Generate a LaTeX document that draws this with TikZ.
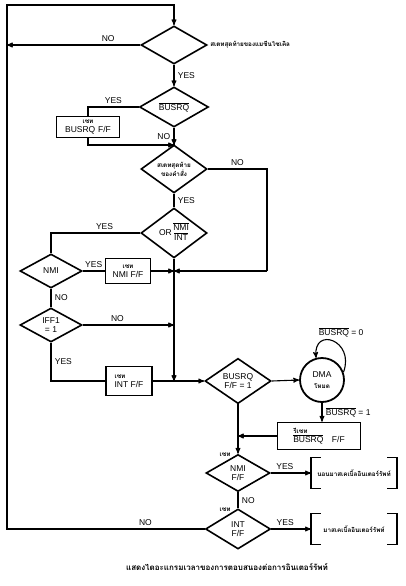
\documentclass[tikz,border=0pt]{standalone}
\usepackage{fontspec}
\setmainfont{Liberation Sans}
\newfontfamily\thaifont[Script=Thai]{Loma}
\newcommand{\thsm}{\thaifont\bfseries\fontsize{6.3}{7}\selectfont}
\newcommand{\ovl}[1]{$\overline{\mbox{#1}}$}
\usetikzlibrary{arrows,shapes.geometric}

\begin{document}
\begin{tikzpicture}[->, >=stealth', line width=1.1pt, x=1pt, y=-1pt, font=\fontsize{8.5}{9}\selectfont]
	\tikzstyle{decision}=[diamond, draw=black, line width=1.6pt, inner sep=0pt, align=center, minimum width=66pt, minimum height=38pt]
	\tikzstyle{task}=[rectangle, draw=black, line width=1.6pt, inner sep=1pt, align=center]
	\tikzstyle{bracketbox}=[rectangle, minimum width=85pt, minimum height=30pt, inner sep=0pt]
	\useasboundingbox (0,0) rectangle (406,586);
	\node[decision]   (cycle)    at (174,45)  {};
	\node[right, inner sep=2pt] (cyclenote) at (cycle.east) {\thsm สเตทสุดท้ายของแมชีนไซเคิล};
	\node[decision, minimum width=69pt, minimum height=40pt] (busrq) at (174,107) {\ovl{BUSRQ}};
	\node[task, minimum width=63pt, minimum height=21pt] (setbusrq) at (88,127) {{\thsm เซท}\\BUSRQ\,\,F/F};
	\node[decision]   (instr)    at (174,169) {\thsm สเตทสุดท้าย\\\thsm ของคำสั่ง};
	\node[decision]   (intr)     at (174,233) {OR\,\begin{tabular}{@{}c@{}}\ovl{NMI}\\[-1pt]\ovl{INT}\end{tabular}};
	\node[decision, minimum width=62pt, minimum height=34pt] (nmi) at (51,271) {NMI};
	\node[task, minimum width=45pt, minimum height=25pt] (setnmi) at (128,271) {{\thsm เซท}\\NMI F/F};
	\node[decision, minimum width=62pt, minimum height=34pt] (iff) at (51,325) {IFF1\\= 1};
	\node[task, minimum width=46pt, minimum height=29pt, align=left] (setint) at (129,381) {{\thsm เซท}\\INT F/F};
	\node[decision, minimum height=37pt] (busrqff) at (238,381) {BUSRQ\\F/F = 1};
	\node[circle, draw=black, line width=1.8pt, minimum size=44pt, inner sep=0pt, align=center] (dma) at (322,380) {DMA\\[2pt]{\thsm โหมด}};
	\node[task, minimum width=83pt, minimum height=27pt, align=left] (reset) at (319,436) {{\thsm รีเซท}\\\ovl{BUSRQ}\quad F/F};
	\node[decision, minimum width=64pt, minimum height=37pt] (nmiff) at (238,473) {NMI\\F/F};
	\node[decision, minimum width=65pt, minimum height=40pt] (intff) at (238,529) {INT\\F/F};
	\node[anchor=east, inner sep=1pt] (nmifftag) at ([xshift=-6pt,yshift=-1pt]nmiff.north) {\thsm เซท};
	\node[anchor=east, inner sep=1pt] (intfftag) at ([xshift=-6pt,yshift=-1pt]intff.north) {\thsm เซท};
	\node[bracketbox] (mnmi) at (354,473) {\thsm นอนมาสเคเบิ้ลอินเตอร์รัพท์};
	\node[bracketbox] (mint) at (354,529) {\thsm มาสเคเบิ้ลอินเตอร์รัพท์};
	\node[font=\thaifont\bfseries\fontsize{8}{9}\selectfont] (caption) at (227,567) {แสดงไดอะแกรมเวลาของการตอบสนองต่อการอินเตอร์รัพท์};
	\coordinate (topleft) at (7,5);
	\coordinate (join1) at (174,145);
	\coordinate (join2) at (174,271);
	\coordinate (join3) at (174,381);
	\coordinate (noturn) at (267,271);
	% brackets
	\foreach \b in {mnmi,mint}{
		\draw[-, line width=1.6pt] ([xshift=10pt]\b.north west) -- (\b.north west) -- (\b.south west) -- ([xshift=10pt]\b.south west);
		\draw[-, line width=1.6pt] ([xshift=-10pt]\b.north east) -- (\b.north east) -- (\b.south east) -- ([xshift=-10pt]\b.south east);
	}
	\draw (intff.west) -- node[above, pos=0.3]{NO} (intff.west -| topleft) -- (topleft) -| (cycle.north);
	\draw (cycle.west) -- node[above, pos=0.24]{NO} (cycle.west -| topleft);
	\draw (cycle.south) -- node[right]{YES} (busrq.north);
	\draw[-] (busrq.west) -| node[above, pos=0.25]{YES} (setbusrq.north);
	\draw (setbusrq.south) |- (join1);
	\draw (busrq.south) -- node[left]{NO} (join1);
	\draw[-] (join1) -- (instr.north);
	\draw[-] (instr.east) -| node[above, pos=0.25]{NO} (noturn);
	\draw (noturn) -- (join2);
	\draw[-] (instr.south) -- node[right]{YES} (intr.north);
	\draw[-] (intr.west) -| node[above, pos=0.2]{YES} (nmi.north);
	\draw (intr.south) -- (join3);
	\draw[-] (nmi.east) -- node[above]{YES} (setnmi.west);
	\draw (setnmi.east) -- (join2);
	\draw[-] (nmi.south) -- node[right]{NO} (iff.north);
	\draw (iff.east) -- node[above, pos=0.38]{NO} (iff.east -| join3);
	\draw[-] (iff.south) |- node[right, pos=0.25]{YES} (setint.west);
	\draw (setint.east) -- (busrqff.west);
	\draw (busrqff.east) -- (dma.west);
	\draw (dma.20) .. controls +(70:34pt) and +(95:32pt) .. node[above, xshift=8pt]{\ovl{BUSRQ} = 0} (dma.105);
	\draw (dma.south) -- node[right]{\ovl{BUSRQ} = 1} (dma.south |- reset.north);
	\draw (reset.west) -- (reset.west -| busrqff.south);
	\draw (busrqff.south) -- (nmiff.north);
	\draw (nmiff.east) -- node[above, pos=0.35]{YES} (mnmi.west);
	\draw[-] (nmiff.south) -- node[right]{NO} (intff.north);
	\draw (intff.east) -- node[above, pos=0.35]{YES} (mint.west);
\end{tikzpicture}
\end{document}
